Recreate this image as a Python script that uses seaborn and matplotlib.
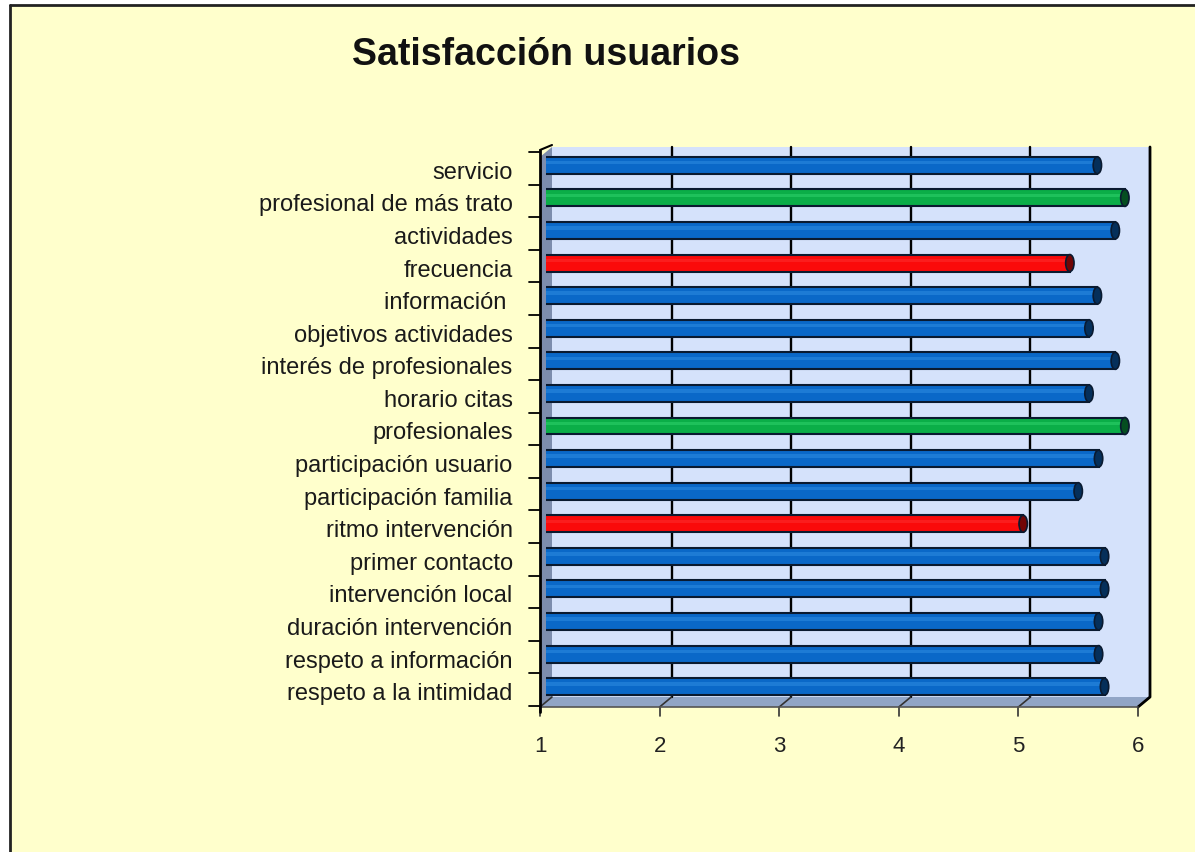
import numpy as np
import pandas as pd
import seaborn as sns
import matplotlib.pyplot as plt
from matplotlib.patches import Polygon, Rectangle, Ellipse
from matplotlib.lines import Line2D
from matplotlib.transforms import ScaledTranslation


# DATOS
categorias = ['servicio', 'profesional de más trato', 'actividades', 'frecuencia',
              'información ', 'objetivos actividades', 'interés de profesionales',
              'horario citas', 'profesionales', 'participación usuario',
              'participación familia', 'ritmo intervención', 'primer contacto',
              'intervención local', 'duración intervención', 'respeto a información',
              'respeto a la intimidad']
valores = [5.61, 5.84, 5.76, 5.38, 5.61, 5.54, 5.76, 5.54, 5.84, 5.62,
           5.45, 4.99, 5.67, 5.67, 5.62, 5.62, 5.67]
grupo = ['medio', 'alto', 'medio', 'bajo', 'medio', 'medio', 'medio', 'medio', 'alto',
         'medio', 'medio', 'bajo', 'medio', 'medio', 'medio', 'medio', 'medio']
colores = {'medio': '#0A68C8', 'alto': '#0BAE48', 'bajo': '#FA0A0A'}
ticks_x = [1, 2, 3, 4, 5, 6]

W, H = 1195, 852


def fp(x, y):
    """pixel (origen arriba-izquierda) -> fraccion de figura"""
    return (x / W, 1 - y / H)


sns.set_style('white')
plt.rcParams['font.family'] = ['Liberation Sans', 'DejaVu Sans']

fig = plt.figure(figsize=(W / 100, H / 100), dpi=100)
fig.patch.set_facecolor('white')

# fondo amarillo y borde
fig.patches.append(Rectangle(fp(10, 852), 1 - 10 / W, 1 - 5 / H, transform=fig.transFigure,
                             facecolor='#FFFFCC', edgecolor='none', zorder=0))
fig.lines.append(Line2D([fp(10, 0)[0]] * 2, [0, fp(0, 5)[1]], transform=fig.transFigure,
                        color='#222222', lw=2, zorder=1))
fig.lines.append(Line2D([fp(10, 0)[0], 1], [fp(0, 5)[1]] * 2, transform=fig.transFigure,
                        color='#222222', lw=2, zorder=1))

# ejes en el plano medio (donde van las barras)
x0, y0 = fp(546, 703)
x1, y1 = fp(1144, 149)
ax = fig.add_axes([x0, y0, x1 - x0, y1 - y0])
ax.set_zorder(5)
ax.set_facecolor('none')

df = pd.DataFrame({'categoria': categorias, 'valor': valores, 'grupo': grupo})
sns.barplot(data=df, y='categoria', x='valor', hue='grupo', palette=colores, orient='h',
            width=0.52, dodge=False, saturation=1, edgecolor='#0A1A30', linewidth=1.5,
            legend=False, ax=ax)

ax.set_xlim(1, 6)
ax.set_ylim(len(categorias) - 0.5, -0.5)
for s in ax.spines.values():
    s.set_visible(False)
ax.set_xlabel('')
ax.set_ylabel('')
ax.set_xticks(ticks_x)
ax.set_xticklabels([str(t) for t in ticks_x])
ax.tick_params(axis='x', length=0, pad=24, labelsize=16, labelcolor='#222222')
ax.tick_params(axis='y', length=0, pad=24, labelsize=17, labelcolor='#1a1a1a')
for lab in ax.get_xticklabels():
    lab.set_transform(lab.get_transform() + ScaledTranslation(-6 / 100, 0, fig.dpi_scale_trans))
for lab in ax.get_yticklabels():
    lab.set_transform(lab.get_transform() + ScaledTranslation(0, -5 / 100, fig.dpi_scale_trans))

# efecto cilindro
for p in list(ax.patches):
    h = p.get_height()
    yb = p.get_y()
    xe = p.get_x() + p.get_width()
    base = p.get_facecolor()
    claro = tuple(min(1, c + 0.3) for c in base[:3])
    oscuro = tuple(c * 0.45 for c in base[:3])
    ax.add_patch(Rectangle((1, yb + 0.25 * h), xe - 1, 0.2 * h, facecolor=claro,
                           edgecolor='none', alpha=0.25, zorder=3))
    ax.add_patch(Ellipse((xe, yb + h / 2), 0.07, h, facecolor=oscuro,
                         edgecolor='#0A1A30', lw=1.2, zorder=4))

fig.canvas.draw()


def px(v, yv):
    """datos -> pixel (origen arriba-izquierda)"""
    d = ax.transData.transform((v, yv))
    return d[0], H - d[1]


# pared trasera, pared izquierda y suelo
dx = 6
fondo_top, fondo_bot = 147, 697
xl = px(1, 0)[0]
xr = px(6, 0)[0]
fig.patches.append(Rectangle(fp(xl + dx, fondo_bot), (xr - xl) / W, (fondo_bot - fondo_top) / H,
                             transform=fig.transFigure, facecolor='#D5E2FB',
                             edgecolor='none', zorder=1))
pared = [fp(xl - dx, fondo_top + 10), fp(xl + dx, fondo_top), fp(xl + dx, fondo_bot),
         fp(xl - dx, fondo_bot + 10)]
fig.patches.append(Polygon(pared, closed=True, transform=fig.transFigure,
                           facecolor='#7D8DAD', edgecolor='none', zorder=1))
suelo = [fp(xl - dx, fondo_bot + 10), fp(xr - dx, fondo_bot + 10), fp(xr + dx, fondo_bot),
         fp(xl + dx, fondo_bot)]
fig.patches.append(Polygon(suelo, closed=True, transform=fig.transFigure,
                           facecolor='#91A5C6', edgecolor='none', zorder=1))


def linea(pts, lw=1.5, color='black', z=2):
    xs = [fp(a, b)[0] for a, b in pts]
    ys = [fp(a, b)[1] for a, b in pts]
    fig.lines.append(Line2D(xs, ys, transform=fig.transFigure, color=color, lw=lw, zorder=z))


# rejilla vertical y sus marcas sobre el suelo
for t in ticks_x:
    xm = px(t, 0)[0]
    if 1 < t < 6:
        linea([(xm + dx, fondo_top), (xm + dx, fondo_bot)], lw=1.7)
    linea([(xm + dx, fondo_bot), (xm - dx, fondo_bot + 10)], lw=1.2, color='#333333')
    linea([(xm - dx, fondo_bot + 10), (xm - dx, fondo_bot + 19)], lw=1.2, color='#333333')

# bordes
linea([(xr + dx, fondo_top), (xr + dx, fondo_bot), (xr - dx, fondo_bot + 10)], lw=2)
linea([(xl - dx, fondo_bot + 10), (xr - dx, fondo_bot + 10)], lw=1.2, color='#555555')
linea([(xl - dx, fondo_top + 3), (xl - dx, fondo_bot + 15)], lw=2)
linea([(xl - dx, fondo_top + 3), (xl + dx, fondo_top - 2)], lw=1.5)

# marcas del eje de categorias
for k in range(len(categorias) + 1):
    yb = px(1, k - 0.5)[1] + 3
    linea([(xl - dx - 11, yb), (xl - dx, yb)], lw=1.3)

fig.text(*fp(546, 55), 'Satisfacción usuarios', ha='center', va='center',
         fontsize=27, fontweight='bold', color='#111111')

fig.savefig('out.png', dpi=100, facecolor=fig.get_facecolor())
